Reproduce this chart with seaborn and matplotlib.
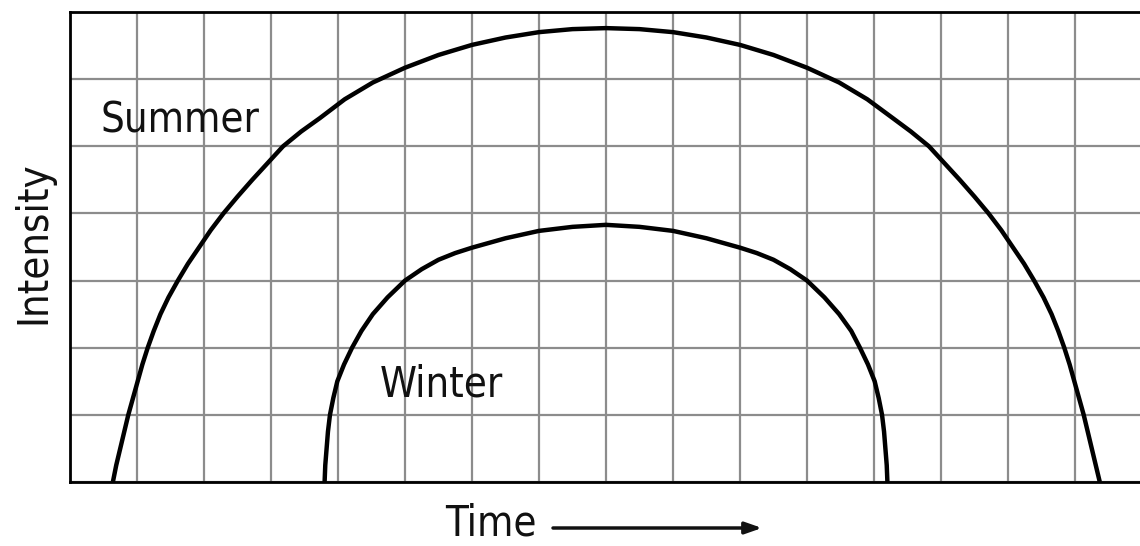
import matplotlib
matplotlib.use("Agg")
import matplotlib.pyplot as plt
import seaborn as sns
import pandas as pd

# Values (grid units: x 0..16 columns, y 0..7 rows)
summer_x = [0.64, 0.69, 0.75, 0.81, 0.87, 0.94, 1.01, 1.08, 1.16, 1.25, 1.35, 1.47,
            1.61, 1.76, 1.93, 2.10, 2.29, 2.50, 2.72, 2.95, 3.18, 3.45, 3.73, 4.10,
            4.52, 5.0, 5.5, 6.0, 6.5, 7.0, 7.5, 8.0,
            8.5, 9.0, 9.5, 10.0, 10.5, 11.0, 11.48, 11.90, 12.28, 12.55, 12.82, 13.05,
            13.28, 13.50, 13.71, 13.90, 14.07, 14.24, 14.39, 14.53, 14.65, 14.75, 14.84,
            14.92, 14.99, 15.06, 15.13, 15.19, 15.25, 15.31, 15.37]
summer_y = [0.0, 0.25, 0.5, 0.75, 1.0, 1.25, 1.5, 1.75, 2.0, 2.25, 2.5, 2.75,
            3.0, 3.25, 3.5, 3.75, 4.0, 4.25, 4.5, 4.75, 5.0, 5.22, 5.42, 5.70,
            5.95, 6.17, 6.36, 6.51, 6.62, 6.70, 6.745, 6.76,
            6.745, 6.70, 6.62, 6.51, 6.36, 6.17, 5.95, 5.70, 5.42, 5.22, 5.0, 4.75,
            4.5, 4.25, 4.0, 3.75, 3.5, 3.25, 3.0, 2.75, 2.5, 2.25, 2.0,
            1.75, 1.5, 1.25, 1.0, 0.75, 0.5, 0.25, 0.0]

winter_x = [3.80, 3.81, 3.83, 3.85, 3.88, 3.93, 3.99, 4.09, 4.21, 4.35, 4.52, 4.74,
            5.0, 5.25, 5.5, 5.75, 6.0, 6.5, 7.0, 7.5, 8.0,
            8.5, 9.0, 9.5, 10.0, 10.25, 10.5, 10.75, 11.0, 11.26, 11.48, 11.66, 11.79,
            11.91, 12.01, 12.07, 12.12, 12.15, 12.17, 12.19, 12.20]
winter_y = [0.0, 0.25, 0.5, 0.75, 1.0, 1.25, 1.5, 1.75, 2.0, 2.25, 2.5, 2.75,
            3.0, 3.17, 3.31, 3.41, 3.49, 3.63, 3.74, 3.80, 3.83,
            3.80, 3.74, 3.63, 3.49, 3.41, 3.31, 3.17, 3.0, 2.75, 2.5, 2.25, 2.0,
            1.75, 1.5, 1.25, 1.0, 0.75, 0.5, 0.25, 0.0]

series_labels = ["Summer", "Winter"]
x_label = "Time"
y_label = "Intensity"
n_cols = 16
n_rows = 7

sns.set_style("white")
plt.rcParams["font.family"] = ["DejaVu Sans"]
plt.rcParams["font.stretch"] = "condensed"

W, H = 1140, 546
fig = plt.figure(figsize=(W / 100, H / 100), dpi=100)
ax = fig.add_axes([70 / W, (H - 482) / H, 1072 / W, 470 / H])

df = pd.concat([
    pd.DataFrame({"x": summer_x, "y": summer_y, "season": series_labels[0]}),
    pd.DataFrame({"x": winter_x, "y": winter_y, "season": series_labels[1]}),
])
sns.lineplot(data=df, x="x", y="y", units="season", estimator=None, sort=False,
             color="black", lw=3.2, ax=ax, legend=False)
for ln in ax.lines:
    ln.set_solid_joinstyle("round")
    ln.set_solid_capstyle("butt")

ax.set_xlim(0, n_cols)
ax.set_ylim(0, n_rows)
ax.set_xticks(range(n_cols + 1))
ax.set_yticks(range(n_rows + 1))
ax.grid(True, color="#8c8c8c", lw=1.6)
ax.set_axisbelow(True)
ax.tick_params(length=0, labelbottom=False, labelleft=False)
ax.set_xlabel("")
ax.set_ylabel("")
for s in ["left", "top", "bottom"]:
    ax.spines[s].set_color("black")
    ax.spines[s].set_linewidth(2.0)
ax.spines["right"].set_visible(False)

fs = 30
tkw = dict(fontsize=fs, color="#111111", fontstretch="condensed")
ax.text(0.45, 5.21, series_labels[0], ha="left", va="baseline", **tkw)
ax.text(4.63, 1.27, series_labels[1], ha="left", va="baseline", **tkw)

fig.text(445 / W, 1.5 / H, x_label, ha="left", va="bottom", **tkw)
fig.text(33 / W, 1 - 243 / H, y_label, rotation=90, ha="center", va="center", **tkw)

ax.annotate("", xy=(762 / W, 1 - 528 / H), xytext=(553 / W, 1 - 528 / H),
            xycoords="figure fraction", textcoords="figure fraction",
            arrowprops=dict(arrowstyle="-|>,head_length=1.0,head_width=0.35",
                            color="#111111", lw=2.5, shrinkA=0, shrinkB=0),
            annotation_clip=False)

fig.savefig("out.png", dpi=100)
